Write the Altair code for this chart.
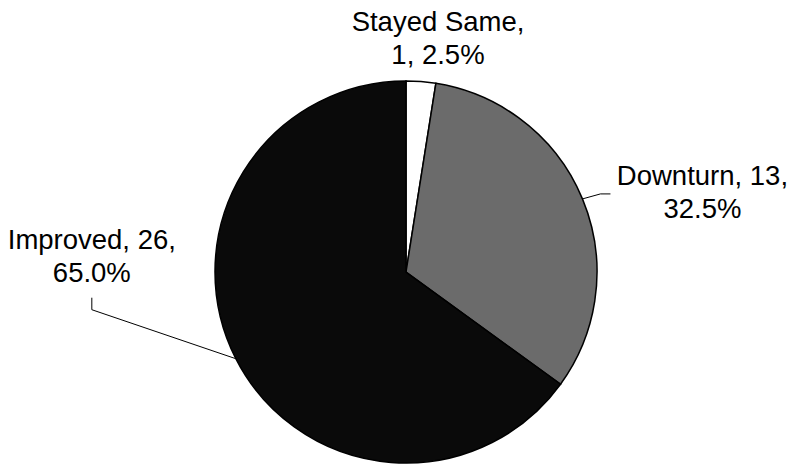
import altair as alt
import pandas as pd

# ---- data ----
categories = ["Stayed Same", "Downturn", "Improved"]
counts = [1, 13, 26]

df = pd.DataFrame({
    "category": categories,
    "value": counts,
    "idx": list(range(len(categories))),
})

# ---- layout / style ----
W, H = 792, 466
CX, CY, R = 406, 272, 191
fills = ["#ffffff", "#6b6b6b", "#0a0a0a"]
FONT = "Liberation Sans"
FS = 27.5
LH = 33

# label offsets from the slice's outer-edge midpoint (dx, dy)
label_offsets = {
    "Stayed Same": (17, -51),
    "Downturn": (120, -14),
    "Improved": (-144, -110),
}
# leader line polylines (offsets from slice's outer-edge midpoint)
leaders = {
    "Downturn": [(0, 0), (18, -5), (28, -5)],
    "Improved": [(0, 0), (-144, -49), (-144, -61)],
}

base = (
    alt.Chart(df)
    .transform_window(cum="sum(value)", sort=[alt.SortField("idx")], frame=[None, 0])
    .transform_joinaggregate(total="sum(value)")
    .transform_calculate(
        mid="2*PI*(datum.cum - datum.value/2)/datum.total",
        pct="datum.value/datum.total",
    )
    .transform_calculate(
        ex=f"{CX} + {R}*sin(datum.mid)",
        ey=f"{CY} - {R}*cos(datum.mid)",
        label=(
            "datum.category == 'Stayed Same' ? "
            "[datum.category + ',', datum.value + ', ' + format(datum.pct, '.1%')] : "
            "[datum.category + ', ' + datum.value + ',', format(datum.pct, '.1%')]"
        ),
    )
)

arc = (
    alt.Chart(df)
    .mark_arc(outerRadius=R, stroke="black", strokeWidth=1.5)
    .encode(
        theta=alt.Theta("value:Q", stack=True),
        order=alt.Order("idx:Q"),
        color=alt.Color(
            "category:N",
            scale=alt.Scale(domain=categories, range=fills),
            legend=None,
        ),
        x=alt.value(CX),
        y=alt.value(CY),
    )
)

layers = [arc]

for cat, (dx, dy) in label_offsets.items():
    layers.append(
        base.transform_filter(alt.datum.category == cat)
        .mark_text(
            align="center",
            baseline="alphabetic",
            dx=dx,
            dy=dy,
            font=FONT,
            fontSize=FS,
            lineHeight=LH,
            color="black",
        )
        .encode(
            x=alt.X("ex:Q", scale=None, axis=None),
            y=alt.Y("ey:Q", scale=None, axis=None),
            text=alt.Text("label:N"),
        )
    )

for cat, pts in leaders.items():
    for (ax, ay), (bx, by) in zip(pts[:-1], pts[1:]):
        layers.append(
            base.transform_filter(alt.datum.category == cat)
            .transform_calculate(
                x1=f"datum.ex + ({ax})",
                y1=f"datum.ey + ({ay})",
                x2=f"datum.ex + ({bx})",
                y2=f"datum.ey + ({by})",
            )
            .mark_rule(color="black", strokeWidth=1)
            .encode(
                x=alt.X("x1:Q", scale=None, axis=None),
                y=alt.Y("y1:Q", scale=None, axis=None),
                x2=alt.X2("x2:Q"),
                y2=alt.Y2("y2:Q"),
            )
        )

chart = (
    alt.layer(*layers)
    .properties(
        width=W,
        height=H,
        padding=0,
        autosize=alt.AutoSizeParams(type="none"),
        background="white",
    )
    .configure_view(stroke=None)
)

chart.save("out.html", embed_options={"renderer": "svg", "actions": False})
